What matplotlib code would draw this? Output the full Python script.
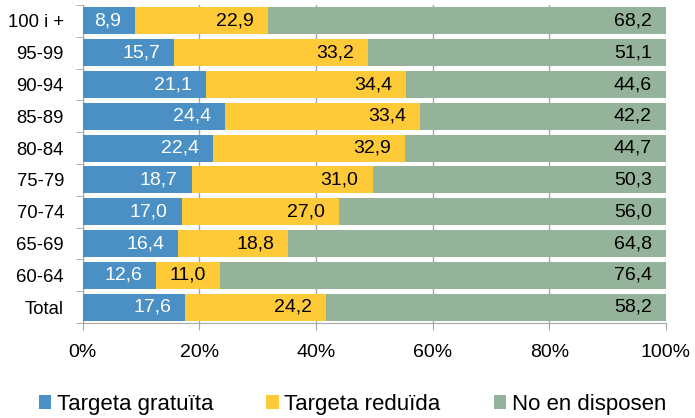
import numpy as np
import matplotlib.pyplot as plt

plt.rcParams['font.family'] = ['Liberation Sans', 'DejaVu Sans']

categories = ["100 i +", "95-99", "90-94", "85-89", "80-84", "75-79", "70-74", "65-69", "60-64", "Total"]
gratuita = [8.9, 15.7, 21.1, 24.4, 22.4, 18.7, 17.0, 16.4, 12.6, 17.6]
reduida = [22.9, 33.2, 34.4, 33.4, 32.9, 31.0, 27.0, 18.8, 11.0, 24.2]
no_disposen = [68.2, 51.1, 44.6, 42.2, 44.7, 50.3, 56.0, 64.8, 76.4, 58.2]
series_names = ["Targeta gratuïta", "Targeta reduïda", "No en disposen"]

blue_color = "#4a90c4"
yellow_color = "#ffca38"
green_color = "#95b39a"
grid_color = "#a6a6a6"

fig = plt.figure(figsize=(6.95, 4.18), dpi=100)
ax = fig.add_axes([0.119, 0.227, 0.839, 0.761])

y = np.arange(len(categories))
left = np.zeros(len(categories))
series = [gratuita, reduida, no_disposen]
colors = [blue_color, yellow_color, green_color]
text_colors = ["white", "black", "black"]

handles = []
for vals, col, tcol, name in zip(series, colors, text_colors, series_names):
    vals = np.array(vals)
    bars = ax.barh(y, vals, left=left, height=0.85, color=col, label=name, zorder=2)
    handles.append(bars)
    # value labels at the inside end of each segment
    for yi, l, v in zip(y, left, vals):
        ax.annotate(f"{v:.1f}".replace(".", ","), xy=(min(l + v, 100), yi), xytext=(-14, 0),
                    textcoords="offset pixels", ha="right", va="center",
                    color=tcol, fontsize=14, zorder=3, annotation_clip=False)
    left = left + vals

ax.set_xlim(0, 100)
ax.set_ylim(len(categories) - 0.5, -0.5)
ax.set_xticks(np.arange(0, 101, 20))
ax.set_xticklabels([f"{v}%" for v in range(0, 101, 20)], fontsize=14)
ax.set_yticks(y)
ax.set_yticklabels(categories, fontsize=13.3)
ax.set_yticks(np.arange(-0.5, len(categories), 1), minor=True)
ax.tick_params(axis="y", which="major", length=0, pad=13.5)
ax.tick_params(axis="y", which="minor", length=5, color=grid_color, direction="out")
ax.tick_params(axis="x", length=5, color=grid_color, pad=10)

ax.grid(axis="x", color=grid_color, linewidth=1, zorder=0)
for s in ["top", "right"]:
    ax.spines[s].set_visible(False)
for s in ["left", "bottom"]:
    ax.spines[s].set_color(grid_color)
    ax.spines[s].set_zorder(1)

fig.legend(handles=handles, labels=series_names, loc="lower center", ncol=3,
           frameon=False, fontsize=16, handlelength=0.55, handleheight=0.55,
           handletextpad=0.25, columnspacing=2.4, bbox_to_anchor=(0.507, -0.04))

fig.savefig("out.png", dpi=100)
